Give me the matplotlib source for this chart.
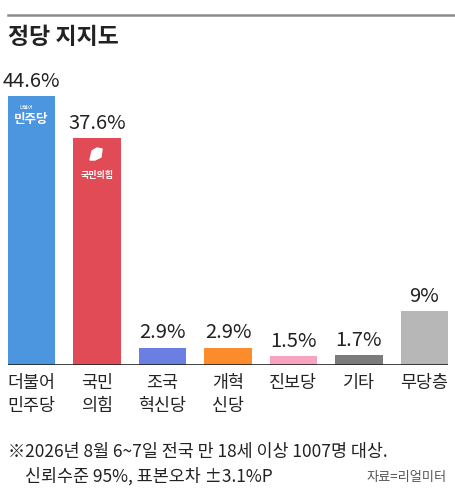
import matplotlib
matplotlib.use("Agg")
import matplotlib.pyplot as plt
from matplotlib.patches import Polygon

plt.rcParams['font.family'] = ['Noto Sans CJK KR', 'DejaVu Sans']

parties = ["더불어\n민주당", "국민\n의힘", "조국\n혁신당", "개혁\n신당", "진보당", "기타", "무당층"]
values = [44.6, 37.6, 2.9, 2.9, 1.5, 1.7, 9]
value_labels = ["44.6%", "37.6%", "2.9%", "2.9%", "1.5%", "1.7%", "9%"]
colors = ["#4c95df", "#e14b55", "#6b7fe2", "#fb8c2c", "#f7a3c0", "#7b7b7b", "#b7b7b7"]

W, H = 455, 494
fig = plt.figure(figsize=(W / 100, H / 100), dpi=100)

# pixel helpers
def fx(px):
    return px / W

def fy(py):
    return 1 - py / H

# top rule + title
fig.add_artist(plt.Line2D([fx(8), 1], [fy(15), fy(15)], color="#8a8a8a", lw=1.8))
fig.text(fx(8), fy(37), "정당 지지도", fontsize=16.5, fontweight="bold",
         color="#222222", va="center", ha="left")

# bar axes: baseline at y=365 px, ~6.03 px per %
base, top = 365, 80
ax = fig.add_axes([fx(8), fy(base), fx(448) - fx(8), (base - top) / H])
width = 0.72
x = list(range(len(values)))
ax.bar(x, values, width=width, color=colors)
ax.set_xlim(-width / 2, len(values) - 1 + width / 2)
ax.set_ylim(0, (base - top) / 6.03)
ax.axis("off")
ax.axhline(0, color="#222222", lw=1.2)

for xi, v, lab in zip(x, values, value_labels):
    ax.annotate(lab, (xi, v), xytext=(0, 3), textcoords="offset points",
                ha="center", va="bottom", fontsize=14.5, fontweight="medium",
                color="#222222")

# party logos
ax.annotate("민주당", (0, values[0]), xytext=(0, -17), textcoords="offset points",
            ha="center", va="center", fontsize=9, fontweight="bold", color="white")
ax.annotate("더불어", (0, values[0]), xytext=(-4, -8), textcoords="offset points",
            ha="center", va="center", fontsize=3.5, color="white")
ax.annotate("국민의힘", (1, values[1]), xytext=(0, -27), textcoords="offset points",
            ha="center", va="center", fontsize=6.5, fontweight="bold", color="white")
icon = Polygon([(fx(90), fy(160)), (fx(92), fy(151)), (fx(97), fy(148)),
                (fx(102), fy(149)), (fx(101), fy(157)), (fx(95), fy(160))],
               closed=True, transform=fig.transFigure, color="white", zorder=5)
fig.add_artist(icon)

# category labels
for xi, name in zip(x, parties):
    fig.text(fx(8 + 23.5 + xi * 65.4), fy(374), name, fontsize=12.5,
             color="#222222", ha="center", va="top", linespacing=1.35)

# footnote
fig.text(fx(8), fy(452), "※2026년 8월 6~7일 전국 만 18세 이상 1007명 대상.",
         fontsize=12.5, color="#222222", ha="left", va="center")
fig.text(fx(25), fy(476), "신뢰수준 95%, 표본오차 ±3.1%P",
         fontsize=12.5, color="#222222", ha="left", va="center")
fig.text(fx(447), fy(477), "자료=리얼미터", fontsize=9.5, color="#555555",
         ha="right", va="center")

fig.savefig("out.png", dpi=100)
